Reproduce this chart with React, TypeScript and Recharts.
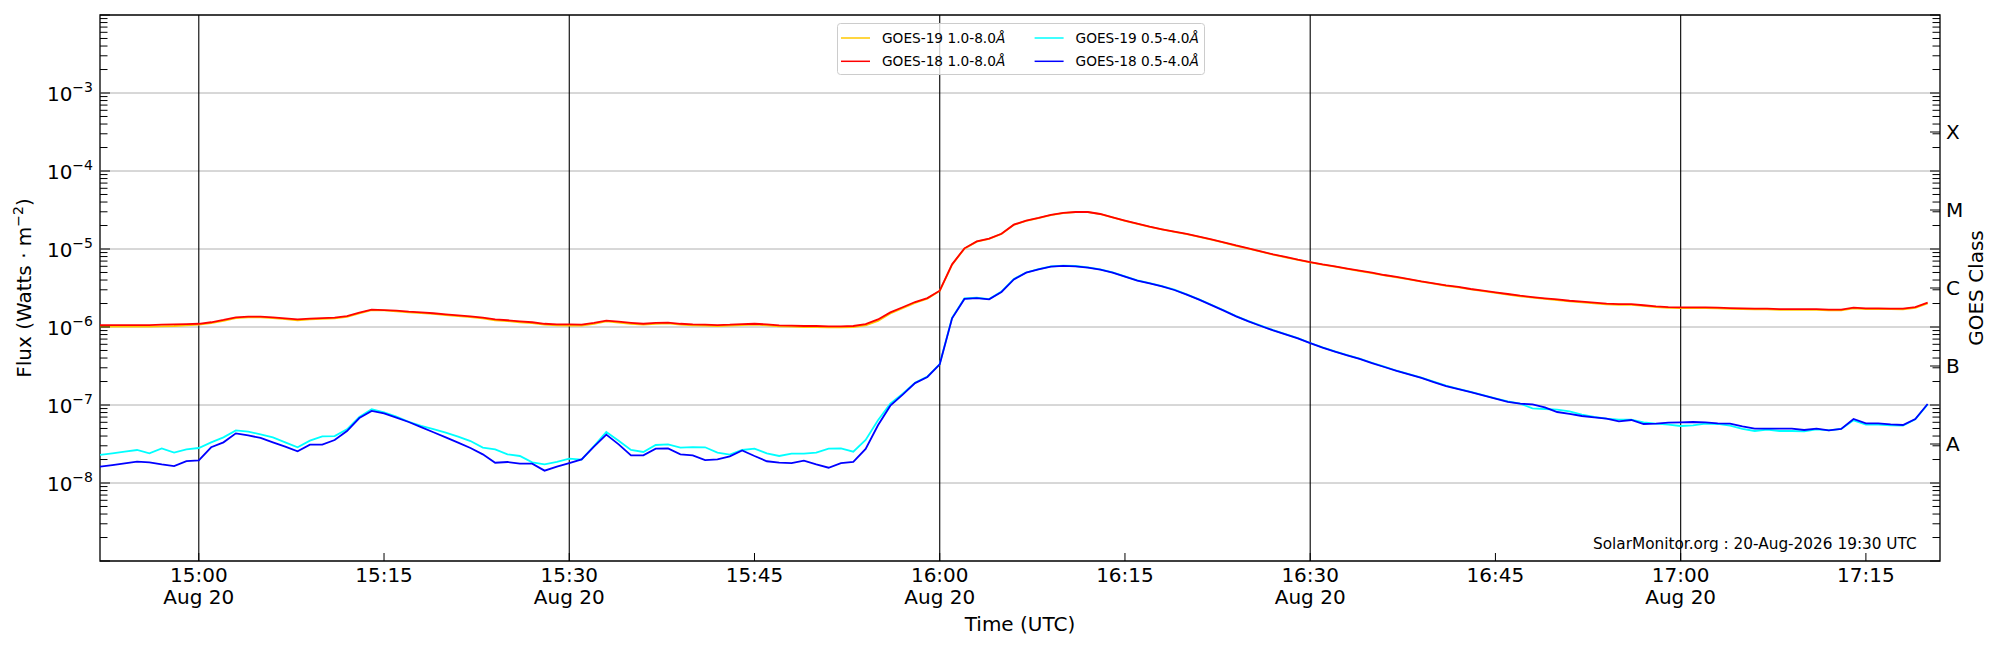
import { LineChart, Line, XAxis, YAxis, ReferenceLine, ReferenceArea, Legend } from "recharts"

// one sample per minute, starting 14:52 UTC (minutes counted from 15:00)
const START_MINUTE = -8

// GOES-19 1.0-8.0 A (W/m^2)
const goes19Long = [
  1.01e-6, 1.01e-6, 1.01e-6, 1.01e-6, 1.01e-6, 1.02e-6, 1.03e-6, 1.05e-6, 1.07e-6,
  1.12e-6, 1.2e-6, 1.3e-6, 1.33e-6, 1.33e-6, 1.3e-6, 1.26e-6, 1.22e-6, 1.25e-6, 1.27e-6,
  1.29e-6, 1.35e-6, 1.5e-6, 1.64e-6, 1.63e-6, 1.59e-6, 1.54e-6, 1.51e-6, 1.47e-6, 1.42e-6,
  1.38e-6, 1.34e-6, 1.29e-6, 1.22e-6, 1.19e-6, 1.15e-6, 1.12e-6, 1.07e-6, 1.05e-6, 1.04e-6,
  1.04e-6, 1.1e-6, 1.18e-6, 1.14e-6, 1.1e-6, 1.07e-6, 1.1e-6, 1.11e-6, 1.07e-6, 1.05e-6,
  1.04e-6, 1.03e-6, 1.04e-6, 1.06e-6, 1.07e-6, 1.05e-6, 1.02e-6, 1.01e-6, 1.0e-6, 1.0e-6,
  0.99e-6, 0.99e-6, 1.0e-6, 1.05e-6, 1.2e-6, 1.49e-6, 1.74e-6, 2.04e-6, 2.31e-6, 2.9e-6,
  6.3e-6, 1.01e-5, 1.24e-5, 1.35e-5, 1.56e-5, 2.04e-5, 2.3e-5, 2.49e-5, 2.72e-5, 2.89e-5,
  2.97e-5, 2.97e-5, 2.8e-5, 2.54e-5, 2.3e-5, 2.1e-5, 1.92e-5, 1.78e-5, 1.66e-5, 1.55e-5,
  1.43e-5, 1.32e-5, 1.21e-5, 1.1e-5, 1.01e-5, 9.25e-6, 8.47e-6, 7.83e-6, 7.24e-6, 6.75e-6,
  6.3e-6, 5.95e-6, 5.55e-6, 5.22e-6, 4.92e-6, 4.59e-6, 4.33e-6, 4.07e-6, 3.81e-6, 3.59e-6,
  3.38e-6, 3.22e-6, 3.03e-6, 2.88e-6, 2.74e-6, 2.61e-6, 2.48e-6, 2.38e-6, 2.29e-6, 2.22e-6,
  2.13e-6, 2.07e-6, 2.01e-6, 1.95e-6, 1.93e-6, 1.92e-6, 1.86e-6, 1.8e-6, 1.76e-6, 1.75e-6,
  1.75e-6, 1.75e-6, 1.73e-6, 1.71e-6, 1.69e-6, 1.68e-6, 1.68e-6, 1.66e-6, 1.66e-6, 1.66e-6,
  1.66e-6, 1.63e-6, 1.63e-6, 1.73e-6, 1.7e-6, 1.7e-6, 1.69e-6, 1.69e-6, 1.76e-6, 2.01e-6,
]

// GOES-18 1.0-8.0 A
const goes18Long = [
  1.06e-6, 1.06e-6, 1.06e-6, 1.06e-6, 1.06e-6, 1.07e-6, 1.08e-6, 1.09e-6, 1.1e-6,
  1.15e-6, 1.23e-6, 1.33e-6, 1.36e-6, 1.36e-6, 1.33e-6, 1.29e-6, 1.25e-6, 1.28e-6, 1.3e-6,
  1.32e-6, 1.38e-6, 1.53e-6, 1.67e-6, 1.65e-6, 1.62e-6, 1.57e-6, 1.54e-6, 1.5e-6, 1.45e-6,
  1.41e-6, 1.37e-6, 1.32e-6, 1.25e-6, 1.22e-6, 1.18e-6, 1.15e-6, 1.1e-6, 1.08e-6, 1.08e-6,
  1.07e-6, 1.13e-6, 1.21e-6, 1.17e-6, 1.13e-6, 1.1e-6, 1.13e-6, 1.14e-6, 1.1e-6, 1.08e-6,
  1.07e-6, 1.06e-6, 1.07e-6, 1.09e-6, 1.1e-6, 1.08e-6, 1.05e-6, 1.04e-6, 1.03e-6, 1.03e-6,
  1.02e-6, 1.02e-6, 1.03e-6, 1.09e-6, 1.25e-6, 1.54e-6, 1.79e-6, 2.09e-6, 2.35e-6, 2.92e-6,
  6.36e-6, 1.02e-5, 1.25e-5, 1.36e-5, 1.57e-5, 2.05e-5, 2.31e-5, 2.5e-5, 2.73e-5, 2.9e-5,
  2.98e-5, 2.98e-5, 2.81e-5, 2.55e-5, 2.31e-5, 2.11e-5, 1.93e-5, 1.79e-5, 1.67e-5, 1.56e-5,
  1.44e-5, 1.33e-5, 1.22e-5, 1.11e-5, 1.02e-5, 9.33e-6, 8.54e-6, 7.9e-6, 7.3e-6, 6.81e-6,
  6.36e-6, 6.0e-6, 5.6e-6, 5.27e-6, 4.97e-6, 4.64e-6, 4.38e-6, 4.12e-6, 3.85e-6, 3.63e-6,
  3.42e-6, 3.26e-6, 3.07e-6, 2.92e-6, 2.78e-6, 2.65e-6, 2.52e-6, 2.42e-6, 2.33e-6, 2.26e-6,
  2.17e-6, 2.11e-6, 2.05e-6, 1.99e-6, 1.97e-6, 1.96e-6, 1.9e-6, 1.84e-6, 1.8e-6, 1.79e-6,
  1.79e-6, 1.79e-6, 1.77e-6, 1.75e-6, 1.73e-6, 1.72e-6, 1.72e-6, 1.7e-6, 1.7e-6, 1.7e-6,
  1.7e-6, 1.67e-6, 1.67e-6, 1.77e-6, 1.73e-6, 1.73e-6, 1.72e-6, 1.72e-6, 1.8e-6, 2.05e-6,
]

// GOES-19 0.5-4.0 A
const goes19Short = [
  2.29e-8, 2.4e-8, 2.52e-8, 2.65e-8, 2.4e-8, 2.78e-8, 2.45e-8, 2.7e-8, 2.81e-8,
  3.32e-8, 3.85e-8, 4.73e-8, 4.55e-8, 4.21e-8, 3.85e-8, 3.32e-8, 2.87e-8, 3.49e-8, 3.97e-8,
  4.0e-8, 4.88e-8, 7.0e-8, 8.8e-8, 8.06e-8, 7.1e-8, 6.1e-8, 5.4e-8, 4.92e-8, 4.42e-8,
  3.93e-8, 3.45e-8, 2.84e-8, 2.7e-8, 2.33e-8, 2.22e-8, 1.84e-8, 1.73e-8, 1.86e-8, 2.05e-8,
  1.99e-8, 2.98e-8, 4.51e-8, 3.49e-8, 2.65e-8, 2.5e-8, 3.07e-8, 3.13e-8, 2.84e-8, 2.89e-8,
  2.87e-8, 2.45e-8, 2.31e-8, 2.65e-8, 2.76e-8, 2.4e-8, 2.22e-8, 2.38e-8, 2.38e-8, 2.45e-8,
  2.76e-8, 2.78e-8, 2.52e-8, 3.56e-8, 6.36e-8, 1.04e-7, 1.4e-7, 1.93e-7, 2.31e-7, 3.35e-7,
  1.31e-6, 2.32e-6, 2.37e-6, 2.28e-6, 2.84e-6, 4.12e-6, 5.0e-6, 5.53e-6, 5.99e-6, 6.1e-6,
  6.05e-6, 5.82e-6, 5.48e-6, 5.01e-6, 4.46e-6, 3.97e-6, 3.66e-6, 3.35e-6, 3.01e-6, 2.62e-6,
  2.26e-6, 1.93e-6, 1.64e-6, 1.38e-6, 1.19e-6, 1.04e-6, 9.12e-7, 8.1e-7, 7.2e-7, 6.24e-7,
  5.47e-7, 4.86e-7, 4.36e-7, 3.92e-7, 3.48e-7, 3.1e-7, 2.75e-7, 2.49e-7, 2.24e-7, 1.99e-7,
  1.77e-7, 1.61e-7, 1.47e-7, 1.34e-7, 1.22e-7, 1.11e-7, 1.04e-7, 9.06e-8, 8.89e-8, 8.71e-8,
  8.3e-8, 7.52e-8, 7.02e-8, 6.68e-8, 6.49e-8, 6.49e-8, 6.0e-8, 5.77e-8, 5.6e-8, 5.38e-8,
  5.49e-8, 5.77e-8, 5.71e-8, 5.43e-8, 4.93e-8, 4.64e-8, 4.83e-8, 4.64e-8, 4.64e-8, 4.6e-8,
  4.88e-8, 4.73e-8, 4.93e-8, 6.36e-8, 5.6e-8, 5.6e-8, 5.49e-8, 5.43e-8, 6.55e-8, 1.02e-7,
]

// GOES-18 0.5-4.0 A
const goes18Short = [
  1.62e-8, 1.7e-8, 1.79e-8, 1.88e-8, 1.84e-8, 1.73e-8, 1.65e-8, 1.91e-8, 1.95e-8,
  2.87e-8, 3.32e-8, 4.33e-8, 4.08e-8, 3.78e-8, 3.32e-8, 2.92e-8, 2.55e-8, 3.1e-8, 3.1e-8,
  3.56e-8, 4.64e-8, 6.8e-8, 8.4e-8, 7.8e-8, 6.9e-8, 6.06e-8, 5.2e-8, 4.47e-8, 3.85e-8,
  3.29e-8, 2.81e-8, 2.33e-8, 1.82e-8, 1.86e-8, 1.77e-8, 1.77e-8, 1.44e-8, 1.62e-8, 1.8e-8,
  2.01e-8, 2.92e-8, 4.17e-8, 3.13e-8, 2.26e-8, 2.26e-8, 2.76e-8, 2.78e-8, 2.33e-8, 2.26e-8,
  1.97e-8, 2.01e-8, 2.2e-8, 2.62e-8, 2.22e-8, 1.9e-8, 1.82e-8, 1.8e-8, 1.93e-8, 1.73e-8,
  1.57e-8, 1.8e-8, 1.86e-8, 2.73e-8, 5.49e-8, 9.8e-8, 1.36e-7, 1.91e-7, 2.29e-7, 3.32e-7,
  1.29e-6, 2.29e-6, 2.35e-6, 2.26e-6, 2.81e-6, 4.08e-6, 4.97e-6, 5.49e-6, 5.94e-6, 6.06e-6,
  6.0e-6, 5.77e-6, 5.44e-6, 4.97e-6, 4.42e-6, 3.93e-6, 3.63e-6, 3.32e-6, 2.98e-6, 2.6e-6,
  2.24e-6, 1.91e-6, 1.62e-6, 1.37e-6, 1.18e-6, 1.03e-6, 9.06e-7, 8.05e-7, 7.16e-7, 6.2e-7,
  5.43e-7, 4.83e-7, 4.33e-7, 3.89e-7, 3.45e-7, 3.07e-7, 2.73e-7, 2.47e-7, 2.22e-7, 1.97e-7,
  1.75e-7, 1.6e-7, 1.46e-7, 1.33e-7, 1.21e-7, 1.1e-7, 1.04e-7, 1.02e-7, 9.34e-8, 8.13e-8,
  7.67e-8, 7.23e-8, 6.95e-8, 6.68e-8, 6.17e-8, 6.42e-8, 5.71e-8, 5.77e-8, 5.94e-8, 6.0e-8,
  6.05e-8, 6.0e-8, 5.82e-8, 5.77e-8, 5.33e-8, 4.97e-8, 4.97e-8, 4.97e-8, 4.97e-8, 4.78e-8,
  4.97e-8, 4.73e-8, 4.93e-8, 6.61e-8, 5.82e-8, 5.82e-8, 5.65e-8, 5.54e-8, 6.61e-8, 1.03e-7,
]

const seriesNames = ["GOES-19 1.0-8.0Å", "GOES-18 1.0-8.0Å", "GOES-19 0.5-4.0Å", "GOES-18 0.5-4.0Å"]
const seriesColors = ["#ffc800", "#ff0000", "#00ffff", "#0000ff"]
const seriesKeys = ["g19Long", "g18Long", "g19Short", "g18Short"]

const xTicks = [0, 15, 30, 45, 60, 75, 90, 105, 120, 135]
const xTickLabels = ["15:00", "15:15", "15:30", "15:45", "16:00", "16:15", "16:30", "16:45", "17:00", "17:15"]
const xTickDates = ["Aug 20", "", "Aug 20", "", "Aug 20", "", "Aug 20", "", "Aug 20", ""]
const halfHourLines = [0, 30, 60, 90, 120]

const decadeExponents = [-9, -8, -7, -6, -5, -4, -3, -2]
const labelledExponents = [-8, -7, -6, -5, -4, -3]
const goesClasses = ["A", "B", "C", "M", "X"]
const classCenters = [3.162e-8, 3.162e-7, 3.162e-6, 3.162e-5, 3.162e-4]

const FONT = "DejaVu Sans, sans-serif"

const data = goes18Long.map((_, i) => ({
  t: START_MINUTE + i,
  g19Long: goes19Long[i],
  g18Long: goes18Long[i],
  g19Short: goes19Short[i],
  g18Short: goes18Short[i],
}))

const decades = decadeExponents.map((e) => Math.pow(10, e))
const minorTicks: number[] = []
decadeExponents.slice(0, -1).forEach((e) => {
  for (let m = 2; m <= 9; m++) minorTicks.push(m * Math.pow(10, e))
})
const leftTicks = [...decades, ...minorTicks].sort((a, b) => a - b)
const rightTicks = [...leftTicks, ...classCenters].sort((a, b) => a - b)

const decadeOf = (v: number) => {
  const e = Math.round(Math.log10(v))
  return Math.abs(Math.log10(v) - e) < 1e-6 ? e : null
}

function LeftTick({ x, y, payload }: any) {
  const e = decadeOf(payload.value)
  const major = e !== null
  return (
    <g>
      <line x1={x} x2={x + (major ? 10 : 7.5)} y1={y} y2={y} stroke="#000" strokeWidth={1} />
      {major && labelledExponents.includes(e) && (
        <text x={x - 7} y={y + 8} textAnchor="end" fontSize={20} fontFamily={FONT} fill="#000">
          10
          <tspan dy={-9} fontSize={14}>
            {"\u2212" + Math.abs(e)}
          </tspan>
        </text>
      )}
    </g>
  )
}

function RightTick({ x, y, payload }: any) {
  const ci = classCenters.findIndex((c) => Math.abs(c - payload.value) / c < 1e-6)
  const major = ci >= 0 || decadeOf(payload.value) !== null
  return (
    <g>
      <line x1={x} x2={x - (major ? 10 : 7.5)} y1={y} y2={y} stroke="#000" strokeWidth={1} />
      {ci >= 0 && (
        <text x={x + 6} y={y + 7} fontSize={20} fontFamily={FONT} fill="#000">
          {goesClasses[ci]}
        </text>
      )}
    </g>
  )
}

function TimeTick({ x, y, payload }: any) {
  const i = xTicks.indexOf(payload.value)
  return (
    <g>
      <line x1={x} x2={x} y1={y} y2={y - 8} stroke="#000" strokeWidth={1} />
      <text x={x} y={y + 21} textAnchor="middle" fontSize={20} fontFamily={FONT} fill="#000">
        {xTickLabels[i]}
      </text>
      {xTickDates[i] && (
        <text x={x} y={y + 43} textAnchor="middle" fontSize={20} fontFamily={FONT} fill="#000">
          {xTickDates[i]}
        </text>
      )}
    </g>
  )
}

function LegendBox({ payload }: any) {
  const items = seriesNames.map((n) => (payload || []).find((p: any) => p.value === n)).filter(Boolean)
  return (
    <svg width={368} height={52} style={{ display: "block" }}>
      <rect x={0.5} y={0.5} width={367} height={51} rx={3} fill="#fff" fillOpacity={0.8} stroke="#cccccc" />
      {items.map((item: any, i: number) => {
        const x0 = i < 2 ? 4 : 197.6
        const y0 = i % 2 === 0 ? 15 : 38.3
        return (
          <g key={item.value}>
            <line x1={x0} x2={x0 + 29} y1={y0} y2={y0} stroke={item.color} strokeWidth={1.5} />
            <text x={x0 + 41} y={y0 + 5} fontSize={13.7} fontFamily={FONT} fill="#000">
              {item.value.replace("Å", "")}
              <tspan fontStyle="italic">Å</tspan>
            </text>
          </g>
        )
      })}
    </svg>
  )
}

export default function App() {
  return (
    <div style={{ position: "absolute", left: 0, top: 0, width: 2000, height: 650, background: "#fff" }}>
      <LineChart width={2000} height={650} data={data} margin={{ top: 15, right: 0, bottom: 0, left: 0 }}>
        <XAxis
          dataKey="t"
          type="number"
          domain={[-8, 141]}
          allowDataOverflow
          ticks={xTicks}
          interval={0}
          tick={<TimeTick />}
          tickLine={false}
          axisLine={false}
          tickSize={0}
          tickMargin={0}
          height={89}
          label={{
            content: ({ viewBox }: any) => (
              <text
                x={viewBox.x + viewBox.width / 2}
                y={viewBox.y + 70}
                textAnchor="middle"
                fontSize={20}
                fontFamily={FONT}
                fill="#000"
              >
                Time (UTC)
              </text>
            ),
          }}
        />
        <YAxis
          yAxisId="left"
          type="number"
          scale="log"
          domain={[1e-9, 1e-2]}
          allowDataOverflow
          ticks={leftTicks}
          interval={0}
          tick={<LeftTick />}
          tickLine={false}
          axisLine={false}
          tickSize={0}
          tickMargin={0}
          width={100}
          label={{
            content: ({ viewBox }: any) => {
              const cx = viewBox.x + 31
              const cy = viewBox.y + viewBox.height / 2
              return (
                <text
                  x={cx}
                  y={cy}
                  transform={`rotate(-90 ${cx} ${cy})`}
                  textAnchor="middle"
                  fontSize={20}
                  fontFamily={FONT}
                  fill="#000"
                >
                  Flux (Watts · m
                  <tspan dy={-8} fontSize={14}>
                    {"\u22122"}
                  </tspan>
                  <tspan dy={8}>)</tspan>
                </text>
              )
            },
          }}
        />
        <YAxis
          yAxisId="right"
          orientation="right"
          type="number"
          scale="log"
          domain={[1e-9, 1e-2]}
          allowDataOverflow
          ticks={rightTicks}
          interval={0}
          tick={<RightTick />}
          tickLine={false}
          axisLine={false}
          tickSize={0}
          tickMargin={0}
          width={60}
          label={{
            content: ({ viewBox }: any) => {
              const cx = viewBox.x + 43
              const cy = viewBox.y + viewBox.height / 2
              return (
                <text
                  x={cx}
                  y={cy}
                  transform={`rotate(-90 ${cx} ${cy})`}
                  textAnchor="middle"
                  fontSize={20}
                  fontFamily={FONT}
                  fill="#000"
                >
                  GOES Class
                </text>
              )
            },
          }}
        />
        {decades.slice(1, -1).map((d) => (
          <ReferenceLine key={d} yAxisId="left" y={d} stroke="#b0b0b0" strokeWidth={1} />
        ))}
        {halfHourLines.map((m) => (
          <ReferenceLine key={m} yAxisId="left" x={m} stroke="#000" strokeWidth={1.1} />
        ))}
        {seriesKeys.map((k, i) => (
          <Line
            key={k}
            yAxisId="left"
            dataKey={k}
            name={seriesNames[i]}
            stroke={seriesColors[i]}
            strokeWidth={1.8}
            dot={false}
            activeDot={false}
            isAnimationActive={false}
          />
        ))}
        <ReferenceArea
          yAxisId="left"
          x1={-8}
          x2={141}
          y1={1e-9}
          y2={1e-2}
          fill="none"
          fillOpacity={0}
          stroke="#000"
          strokeWidth={1.3}
        />
        <Legend
          verticalAlign="middle"
          align="center"
          content={<LegendBox />}
          wrapperStyle={{ left: 836.7, top: 22.7, width: 368, height: 52 }}
        />
      </LineChart>
      <svg
        width={2000}
        height={650}
        style={{ position: "absolute", left: 0, top: 0, pointerEvents: "none" }}
      >
        <text x={1916.7} y={549} textAnchor="end" fontSize={15.3} fontFamily={FONT} fill="#000">
          SolarMonitor.org : 20-Aug-2026 19:30 UTC
        </text>
      </svg>
    </div>
  )
}
